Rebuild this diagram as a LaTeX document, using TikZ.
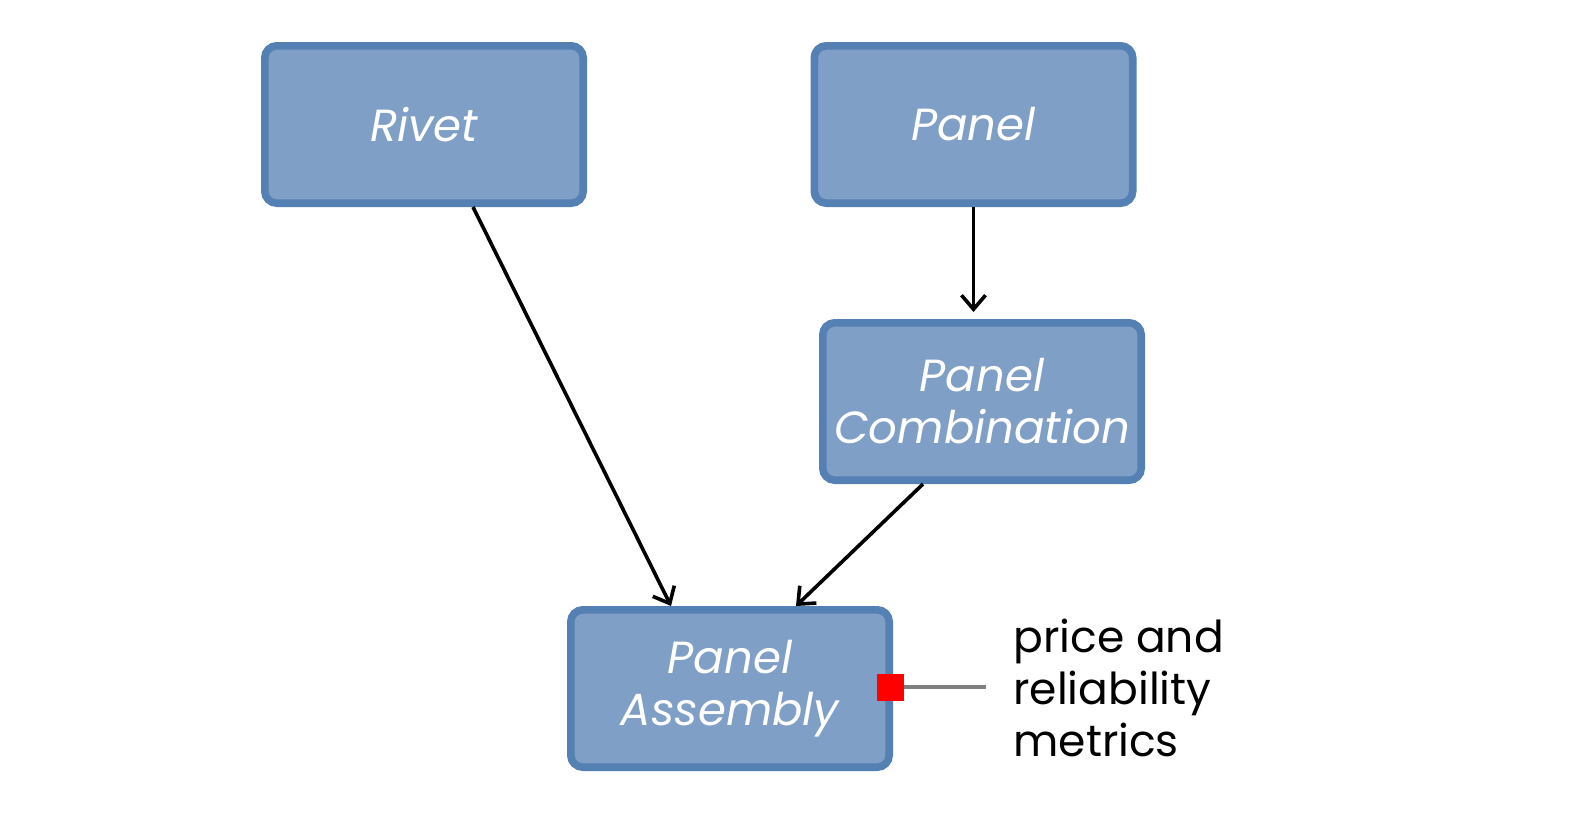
\documentclass[tikz,border=0pt]{standalone}
\usepackage{fontspec}
\setmainfont{Poppins}
\usetikzlibrary{arrows.meta}
\definecolor{boxfill}{HTML}{809FC6}
\definecolor{boxline}{HTML}{5480B3}
\begin{document}
\begin{tikzpicture}[x=0.5pt,y=-0.5pt,
  blk/.style={draw=boxline,fill=boxfill,line width=3.8pt,rounded corners=6pt,
    minimum width=159.2pt,minimum height=78.7pt,align=center,text=white,
    font=\fontsize{22.5}{26}\selectfont\itshape,inner sep=0pt},
  conn/.style={draw=black,line width=1.8pt,-{Straight Barb[length=7pt,width=12pt,line width=1.8pt]}},
]
\useasboundingbox (0,0) rectangle (1576,836);
\fill[white] (0,0) rectangle (1576,836);
\node[blk] (rivet) at (424,124.5) {Rivet};
\node[blk] (panel) at (973.5,124.5) {Panel};
\node[blk] (comb) at (982,401.5) {Panel\\Combination};
\node[blk] (asm) at (730,688.5) {Panel\\Assembly};
\node[fill=red,minimum size=13.5pt,inner sep=0pt] (port) at (890,687) {};
\coordinate (lineend) at (986,687);
\draw[gray,line width=1.6pt] (port.east) -- (lineend);
\node[anchor=west,align=left,font=\fontsize{22}{26}\selectfont,inner sep=0pt] (metrics) at (1013,688) {price and\\reliability\\metrics};
\draw[conn] ([xshift=24.5pt]rivet.south) -- ([xshift=-29.5pt]asm.north);
\draw[conn,shorten >=3.5pt] (panel.south) -- (panel.south |- comb.north);
\draw[conn] ([xshift=-29.5pt]comb.south) -- ([xshift=33pt]asm.north);
\end{tikzpicture}
\end{document}
